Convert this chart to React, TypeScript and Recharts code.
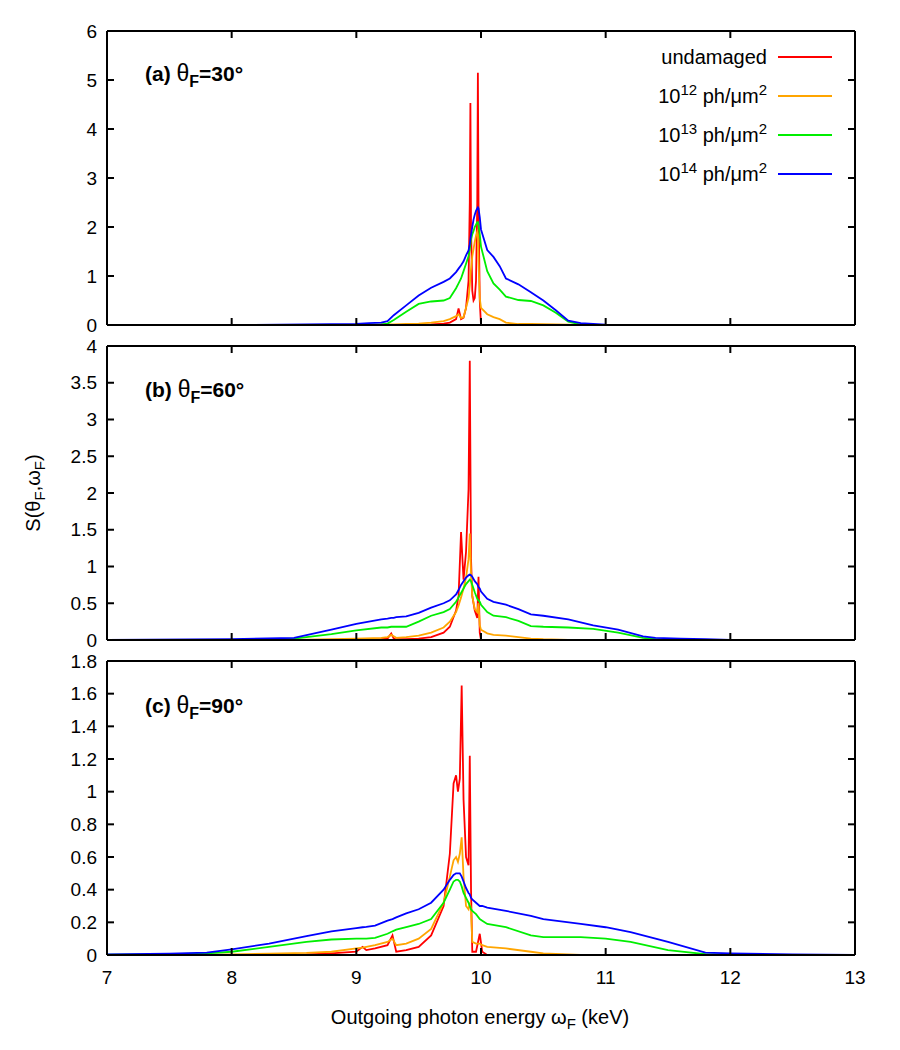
import React from "react";
import { LineChart, Line, XAxis, YAxis } from "recharts";

// photon energy grid (keV) and spectra for each panel
const energyA = [7, 8, 9, 9.1, 9.2, 9.25, 9.3, 9.4, 9.5, 9.6, 9.7, 9.75, 9.8, 9.82, 9.84, 9.86, 9.88, 9.9, 9.91, 9.915, 9.92, 9.93, 9.94, 9.95, 9.96, 9.97, 9.975, 9.98, 9.99, 10, 10.05, 10.1, 10.15, 10.2, 10.3, 10.4, 10.5, 10.6, 10.7, 10.8, 10.9, 11, 12, 13];
const undamagedA = [0, 0, 0, 0, 0, 0, 0, 0, 0, 0.01, 0.03, 0.05, 0.12, 0.34, 0.12, 0.15, 0.35, 0.9, 2.5, 4.53, 2.0, 0.7, 0.5, 0.55, 0.9, 2.5, 5.15, 2.5, 0.5, 0, 0, 0, 0, 0, 0, 0, 0, 0, 0, 0, 0, 0, 0, 0];
const dose12A = [0, 0, 0, 0, 0.005, 0.01, 0.01, 0.02, 0.03, 0.05, 0.08, 0.12, 0.18, 0.22, 0.14, 0.16, 0.35, 0.55, 0.8, 1.0, 1.15, 1.4, 1.55, 1.7, 1.82, 1.9, 1.85, 1.3, 0.55, 0.35, 0.22, 0.16, 0.12, 0.05, 0.02, 0.02, 0.015, 0.01, 0.005, 0, 0, 0, 0, 0];
const dose13A = [0, 0, 0, 0.005, 0.01, 0.03, 0.1, 0.27, 0.43, 0.48, 0.5, 0.55, 0.75, 0.85, 0.95, 1.1, 1.25, 1.4, 1.55, 1.65, 1.75, 1.85, 1.92, 2.0, 2.05, 2.1, 2.1, 2.05, 1.85, 1.6, 1.1, 0.85, 0.72, 0.58, 0.51, 0.49, 0.4, 0.25, 0.07, 0.01, 0, 0, 0, 0];
const dose14A = [0, 0, 0.02, 0.04, 0.05, 0.08, 0.2, 0.4, 0.6, 0.76, 0.88, 0.95, 1.08, 1.15, 1.22, 1.3, 1.42, 1.52, 1.65, 1.75, 1.85, 2.0, 2.15, 2.25, 2.33, 2.38, 2.4, 2.38, 2.2, 1.95, 1.53, 1.39, 1.2, 0.95, 0.83, 0.67, 0.5, 0.3, 0.09, 0.04, 0.02, 0.005, 0, 0];

const energyB = [7, 8, 8.5, 8.8, 9, 9.2, 9.25, 9.28, 9.3, 9.32, 9.4, 9.5, 9.6, 9.7, 9.75, 9.8, 9.82, 9.84, 9.86, 9.88, 9.9, 9.91, 9.92, 9.93, 9.95, 9.97, 9.98, 9.99, 10, 10.05, 10.1, 10.2, 10.3, 10.4, 10.5, 10.7, 10.9, 11.1, 11.3, 11.4, 11.6, 11.8, 12, 13];
const undamagedB = [0, 0, 0, 0, 0, 0.01, 0.02, 0.09, 0.02, 0.01, 0.01, 0.02, 0.04, 0.1, 0.18, 0.4, 0.6, 1.47, 0.82, 1.2, 2.05, 3.8, 1.1, 0.6, 0.4, 0.3, 0.86, 0.1, 0, 0, 0, 0, 0, 0, 0, 0, 0, 0, 0, 0, 0, 0, 0, 0];
const dose12B = [0, 0, 0, 0.01, 0.02, 0.03, 0.04, 0.07, 0.05, 0.03, 0.04, 0.06, 0.1, 0.17, 0.25, 0.38, 0.47, 0.58, 0.7, 0.85, 1.1, 1.45, 0.9, 0.6, 0.42, 0.38, 0.5, 0.2, 0.14, 0.09, 0.07, 0.06, 0.04, 0.02, 0.01, 0, 0, 0, 0, 0, 0, 0, 0, 0];
const dose13B = [0, 0, 0.02, 0.08, 0.13, 0.17, 0.17, 0.18, 0.18, 0.18, 0.18, 0.25, 0.33, 0.38, 0.42, 0.52, 0.58, 0.64, 0.7, 0.76, 0.8, 0.82, 0.8, 0.75, 0.65, 0.56, 0.54, 0.52, 0.48, 0.38, 0.33, 0.31, 0.26, 0.19, 0.18, 0.17, 0.15, 0.1, 0.03, 0.01, 0, 0, 0, 0];
const dose14B = [0, 0.01, 0.03, 0.14, 0.22, 0.28, 0.29, 0.3, 0.3, 0.31, 0.32, 0.37, 0.44, 0.5, 0.54, 0.62, 0.68, 0.75, 0.8, 0.85, 0.88, 0.89, 0.88, 0.86, 0.8, 0.76, 0.72, 0.7, 0.66, 0.56, 0.52, 0.48, 0.42, 0.35, 0.33, 0.28, 0.2, 0.14, 0.05, 0.03, 0.02, 0.01, 0, 0];

const energyC = [7, 7.5, 7.8, 8, 8.3, 8.6, 8.8, 9, 9.05, 9.08, 9.15, 9.25, 9.29, 9.32, 9.4, 9.5, 9.6, 9.7, 9.75, 9.78, 9.8, 9.815, 9.83, 9.845, 9.86, 9.88, 9.9, 9.91, 9.92, 9.93, 9.96, 9.99, 10.01, 10.05, 10.2, 10.4, 10.5, 10.8, 11, 11.2, 11.5, 11.8, 12, 12.5, 13];
const undamagedC = [0, 0, 0, 0, 0, 0.003, 0.01, 0.02, 0.05, 0.03, 0.04, 0.06, 0.12, 0.02, 0.03, 0.05, 0.12, 0.3, 0.62, 1.05, 1.1, 1.0, 1.08, 1.65, 0.95, 0.6, 0.55, 1.22, 0.4, 0.02, 0.02, 0.13, 0.02, 0, 0, 0, 0, 0, 0, 0, 0, 0, 0, 0, 0];
const dose12C = [0, 0, 0.002, 0.004, 0.008, 0.013, 0.02, 0.04, 0.045, 0.05, 0.06, 0.08, 0.1, 0.06, 0.07, 0.1, 0.16, 0.32, 0.48, 0.58, 0.6, 0.57, 0.62, 0.72, 0.48, 0.3, 0.28, 0.32, 0.28, 0.08, 0.07, 0.07, 0.06, 0.05, 0.04, 0.02, 0.01, 0, 0, 0, 0, 0, 0, 0, 0];
const dose13C = [0.002, 0.005, 0.01, 0.02, 0.05, 0.08, 0.095, 0.1, 0.1, 0.1, 0.105, 0.13, 0.145, 0.155, 0.17, 0.19, 0.22, 0.32, 0.4, 0.45, 0.46, 0.46, 0.45, 0.42, 0.38, 0.35, 0.32, 0.3, 0.28, 0.27, 0.25, 0.22, 0.21, 0.19, 0.17, 0.12, 0.11, 0.11, 0.1, 0.08, 0.03, 0.005, 0, 0, 0];
const dose14C = [0.003, 0.008, 0.015, 0.035, 0.07, 0.115, 0.145, 0.165, 0.17, 0.172, 0.18, 0.21, 0.22, 0.23, 0.255, 0.28, 0.32, 0.4, 0.46, 0.49, 0.5, 0.5, 0.5, 0.48, 0.45, 0.41, 0.38, 0.37, 0.35, 0.34, 0.32, 0.3, 0.3, 0.29, 0.27, 0.24, 0.22, 0.19, 0.17, 0.14, 0.08, 0.015, 0.01, 0.003, 0];

const xTicks = [7, 8, 9, 10, 11, 12, 13];
const yTicksA = [0, 1, 2, 3, 4, 5, 6];
const yTicksB = [0, 0.5, 1, 1.5, 2, 2.5, 3, 3.5, 4];
const yTicksC = [0, 0.2, 0.4, 0.6, 0.8, 1, 1.2, 1.4, 1.6, 1.8];

const series = [
  { key: "undamaged", color: "#ff0000", exp: "" },
  { key: "d12", color: "#ffa500", exp: "12" },
  { key: "d13", color: "#00ee00", exp: "13" },
  { key: "d14", color: "#0000ff", exp: "14" },
];

const buildRows = (e: number[], u: number[], a: number[], b: number[], c: number[]) =>
  e.map((x, i) => ({ e: x, undamaged: u[i], d12: a[i], d13: b[i], d14: c[i] }));

const rowsA = buildRows(energyA, undamagedA, dose12A, dose13A, dose14A);
const rowsB = buildRows(energyB, undamagedB, dose12B, dose13B, dose14B);
const rowsC = buildRows(energyC, undamagedC, dose12C, dose13C, dose14C);

const FONT = '"Liberation Sans", Arial, Helvetica, sans-serif';
const tickText = { fill: "#000", fontSize: 19, fontFamily: FONT };
const blank = () => "";

function Panel({ rows, yMax, yTicks, top, height, mTop, mBottom, xLabels }: any) {
  return (
    <div style={{ position: "absolute", left: 0, top }}>
      <LineChart width={900} height={height} data={rows} margin={{ top: mTop - 1, right: 44, bottom: mBottom, left: 0 }}>
        <XAxis xAxisId="b" dataKey="e" type="number" domain={[7, 13]} ticks={xTicks} allowDataOverflow
          height={xLabels ? 40 : 1} tickSize={-7} tickMargin={23} tickFormatter={xLabels ? (v: number) => String(v) : blank}
          stroke="#000" strokeWidth={2} tick={tickText} />
        <XAxis xAxisId="t" dataKey="e" type="number" orientation="top" domain={[7, 13]} ticks={xTicks} allowDataOverflow
          height={1} tickSize={-7} tickFormatter={blank} stroke="#000" strokeWidth={2} tick={tickText} />
        <YAxis yAxisId="l" type="number" domain={[0, yMax]} ticks={yTicks} allowDataOverflow width={107}
          tickSize={-7} tickMargin={17} stroke="#000" strokeWidth={2} tick={tickText} />
        <YAxis yAxisId="r" type="number" orientation="right" domain={[0, yMax]} ticks={yTicks} allowDataOverflow width={1}
          tickSize={-7} tickFormatter={blank} stroke="#000" strokeWidth={2} tick={tickText} />
        {series.map((s) => (
          <Line key={s.key} xAxisId="b" yAxisId="l" type="linear" dataKey={s.key} stroke={s.color}
            strokeWidth={1.8} dot={false} activeDot={false} isAnimationActive={false} />
        ))}
      </LineChart>
    </div>
  );
}

function PanelLabel({ tag, angle, y }: { tag: string; angle: string; y: number }) {
  return (
    <div style={{ position: "absolute", left: 145, top: y - 12, fontSize: 21, lineHeight: "24px", fontWeight: "bold", whiteSpace: "nowrap" }}>
      ({tag}) <span style={{ fontWeight: "normal", fontSize: 23 }}>θ</span>
      <span style={{ fontSize: 16, position: "relative", top: 6 }}>F</span>={angle}°
    </div>
  );
}

function LegendBox() {
  return (
    <div style={{ position: "absolute", right: 68, top: 37.5, fontSize: 20 }}>
      {series.map((s) => (
        <div key={s.key} style={{ display: "flex", alignItems: "center", justifyContent: "flex-end", height: 39 }}>
          <span style={{ whiteSpace: "nowrap" }}>
            {s.exp ? (
              <>
                10<span style={{ fontSize: 15, position: "relative", top: -8 }}>{s.exp}</span> ph/μm
                <span style={{ fontSize: 15, position: "relative", top: -8 }}>2</span>
              </>
            ) : (
              "undamaged"
            )}
          </span>
          <span style={{ display: "inline-block", width: 54, height: 2, background: s.color, marginLeft: 11 }} />
        </div>
      ))}
    </div>
  );
}

export default function App() {
  return (
    <div style={{ position: "absolute", left: 0, top: 0, width: 900, height: 1050, background: "#fff", fontFamily: FONT, color: "#000" }}>
      <Panel rows={rowsA} yMax={6} yTicks={yTicksA} top={0} height={340} mTop={31} mBottom={14} xLabels={false} />
      <Panel rows={rowsB} yMax={4} yTicks={yTicksB} top={330} height={325} mTop={16} mBottom={14} xLabels={false} />
      <Panel rows={rowsC} yMax={1.8} yTicks={yTicksC} top={645} height={405} mTop={16} mBottom={55} xLabels={true} />
      <PanelLabel tag="a" angle="30" y={73} />
      <PanelLabel tag="b" angle="60" y={389} />
      <PanelLabel tag="c" angle="90" y={705} />
      <LegendBox />
      <div style={{ position: "absolute", left: 33, top: 493, transform: "translate(-50%, -50%) rotate(-90deg)", fontSize: 20, whiteSpace: "nowrap" }}>
        S(θ<span style={{ fontSize: 15, position: "relative", top: 5 }}>F</span>,ω
        <span style={{ fontSize: 15, position: "relative", top: 5 }}>F</span>)
      </div>
      <div style={{ position: "absolute", left: 480, top: 1017, transform: "translate(-50%, -50%)", fontSize: 20, whiteSpace: "nowrap" }}>
        Outgoing photon energy ω<span style={{ fontSize: 15, position: "relative", top: 5 }}>F</span> (keV)
      </div>
    </div>
  );
}
